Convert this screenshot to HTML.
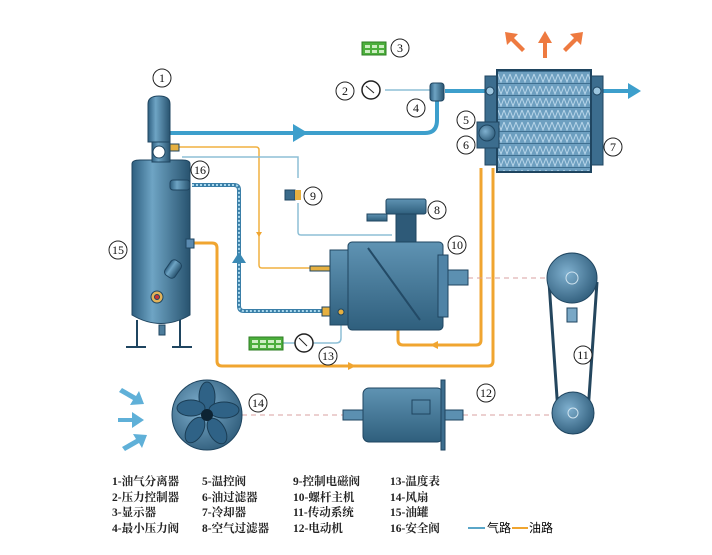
<!DOCTYPE html>
<html><head><meta charset="utf-8"><style>
html,body{margin:0;padding:0;background:#fff;}
svg{display:block;}
.n circle{fill:#fff;stroke:#222;stroke-width:1;}
.n text{font-family:"Liberation Serif",serif;font-size:12px;text-anchor:middle;fill:#111;}
.lg{font-family:"Liberation Serif","Noto Serif CJK SC",serif;font-size:11.5px;fill:#222;font-weight:bold;}
</style></head><body>
<svg width="712" height="555" viewBox="0 0 712 555" xmlns="http://www.w3.org/2000/svg">
<defs>
<linearGradient id="cyl" x1="0" x2="1" y1="0" y2="0">
<stop offset="0" stop-color="#2e5f80"/><stop offset="0.35" stop-color="#6ea4c4"/><stop offset="1" stop-color="#28536f"/></linearGradient>
<linearGradient id="bod" x1="0" x2="0" y1="0" y2="1">
<stop offset="0" stop-color="#5f93b3"/><stop offset="1" stop-color="#2f5f7d"/></linearGradient>
<radialGradient id="disk" cx="0.4" cy="0.4" r="0.7"><stop offset="0" stop-color="#7fb0cf"/><stop offset="1" stop-color="#2b5876"/></radialGradient>
<pattern id="fin" width="6" height="12" patternUnits="userSpaceOnUse">
<rect width="6" height="12" fill="#6d9fc0"/><path d="M0 2 L3 10 L6 2" stroke="#b9d6ea" stroke-width="1" fill="none"/><line x1="0" y1="11.5" x2="6" y2="11.5" stroke="#3f6f90"/></pattern>
</defs>

<g fill="none" stroke="#f0a530" stroke-width="3">
<path d="M194 243 H212 Q217 243 217 248 V361 Q217 366 222 366 H488 Q493 366 493 361 V168"/>
<path d="M398 325 V340 Q398 345 403 345 H476 Q481 345 481 340 V168"/>
</g>
<path d="M356 366 l-8 -4 v8z" fill="#f0a530"/>
<path d="M430 345 l8 -4 v8z" fill="#f0a530"/>
<path d="M172 147 H256 Q259 147 259 150 V265 Q259 268 262 268 H310" fill="none" stroke="#f0b040" stroke-width="1.5"/>
<path d="M256 232 l3 5 l3 -5z" fill="#f0a530"/>
<g fill="none" stroke="#8dbfd6" stroke-width="1.5">
<path d="M182 157 H298 V178"/>
<path d="M298 203 V232 Q298 235 301 235 H392"/>
<path d="M385 90 H430"/>
<path d="M341 312 V338 Q341 343 336 343 H312"/>
<path d="M283 343 H297"/>
</g>
<path d="M192 185 H234 Q239 185 239 190 V306 Q239 311 244 311 H322" fill="none" stroke="#3a7fa8" stroke-width="4"/>
<path d="M192 185 H234 Q239 185 239 190 V306 Q239 311 244 311 H322" fill="none" stroke="#a9d7ec" stroke-width="2" stroke-dasharray="2 2"/>
<path d="M232 263 L239 252 L246 263z" fill="#3a89b4"/>
<path d="M170 133 H425 Q437 133 437 120 V100" fill="none" stroke="#3d9fcc" stroke-width="4"/>
<path d="M293 124 L308 133 L293 142z" fill="#3d9fcc"/>
<path d="M445 91 H488" stroke="#3d9fcc" stroke-width="4"/>
<path d="M603 91 H630" stroke="#3d9fcc" stroke-width="4"/>
<path d="M628 83 L641 91 L628 99z" fill="#3d9fcc"/>
<g stroke="#d9a0a0" stroke-width="1" stroke-dasharray="5 4">
<line x1="468" y1="278" x2="560" y2="278"/>
<line x1="242" y1="415" x2="343" y2="415"/>
<line x1="463" y1="415" x2="565" y2="415"/>
</g>

<g stroke="#1f4560" stroke-width="1">
<line x1="137" y1="320" x2="137" y2="347" stroke-width="2"/><line x1="180" y1="320" x2="180" y2="347" stroke-width="2"/>
<line x1="126" y1="347" x2="146" y2="347" stroke-width="2"/><line x1="172" y1="347" x2="192" y2="347" stroke-width="2"/>
<rect x="159" y="325" width="6" height="10" fill="#4d7d9c"/>
<path d="M132 164 Q132 160 140 160 H182 Q190 160 190 164 V315 Q161 332 132 315z" fill="url(#cyl)"/>
<rect x="152" y="142" width="18" height="20" fill="url(#cyl)"/>
<path d="M148 104 Q148 96 159 96 Q170 96 170 104 V142 H148z" fill="url(#cyl)"/>
<circle cx="159" cy="152" r="6" fill="#fff"/>
<rect x="170" y="180" width="20" height="10" rx="3" fill="url(#cyl)"/>
<rect x="186" y="239" width="8" height="9" fill="#5a8ab0"/>
<rect x="167" y="260" width="12" height="18" rx="4" fill="url(#cyl)" transform="rotate(35 173 269)"/>
<circle cx="157" cy="297" r="6" fill="#e2b35a"/><circle cx="157" cy="297" r="2.5" fill="#c33"/>
<rect x="170" y="144" width="9" height="7" fill="#e6b040"/>
</g>

<g stroke="#1f4560" stroke-width="1">
<rect x="367" y="214" width="20" height="7" fill="url(#bod)"/>
<rect x="386" y="199" width="40" height="15" rx="2" fill="url(#bod)"/>
<rect x="396" y="214" width="20" height="30" fill="#2e5a78"/>
<rect x="330" y="250" width="30" height="75" fill="url(#bod)"/>
<rect x="348" y="242" width="95" height="88" rx="4" fill="url(#bod)"/>
<path d="M368 248 L420 320" stroke="#234a66" stroke-width="2"/>
<rect x="438" y="255" width="10" height="62" fill="#4f83a6"/>
<rect x="448" y="270" width="20" height="15" fill="#5c90b1"/>
<rect x="310" y="266" width="20" height="5" fill="#e6b040"/>
<rect x="322" y="307" width="8" height="9" fill="#e6b040"/>
<circle cx="341" cy="312" r="3" fill="#e6b040"/>
</g>
<rect x="285" y="190" width="10" height="10" fill="#3a6a8a" stroke="#1f4560"/>
<rect x="295" y="190" width="6" height="10" fill="#e6b040"/>
<rect x="430" y="83" width="14" height="18" rx="3" fill="url(#cyl)" stroke="#1f4560"/>
<circle cx="371" cy="90" r="9" fill="#fff" stroke="#222" stroke-width="1.5"/><line x1="366" y1="86" x2="374" y2="93" stroke="#222"/>
<circle cx="304" cy="343" r="9" fill="#fff" stroke="#222" stroke-width="1.5"/><line x1="299" y1="338" x2="307" y2="346" stroke="#222"/>
<g fill="#4caf3c" stroke="#2e7d23"><rect x="249" y="337" width="34" height="13"/><rect x="362" y="42" width="24" height="13"/></g>
<g fill="#cdeec2"><rect x="252" y="340" width="6" height="3"/><rect x="260" y="340" width="6" height="3"/><rect x="268" y="340" width="6" height="3"/><rect x="276" y="340" width="5" height="3"/>
<rect x="252" y="345" width="6" height="3"/><rect x="260" y="345" width="6" height="3"/><rect x="268" y="345" width="6" height="3"/><rect x="276" y="345" width="5" height="3"/>
<rect x="365" y="45" width="5" height="3"/><rect x="372" y="45" width="5" height="3"/><rect x="379" y="45" width="5" height="3"/>
<rect x="365" y="50" width="5" height="3"/><rect x="372" y="50" width="5" height="3"/><rect x="379" y="50" width="5" height="3"/></g>

<rect x="485" y="76" width="14" height="89" fill="#3c6d8e" stroke="#1f4560"/>
<rect x="589" y="76" width="14" height="89" fill="#3c6d8e" stroke="#1f4560"/>
<rect x="497" y="70" width="94" height="102" fill="url(#fin)" stroke="#1f4560" stroke-width="2"/>
<circle cx="490" cy="91" r="4" fill="#9cc6df" stroke="#1f4560"/><circle cx="597" cy="91" r="4" fill="#9cc6df" stroke="#1f4560"/>
<rect x="477" y="122" width="22" height="26" fill="#3c6d8e" stroke="#1f4560"/>
<circle cx="487" cy="133" r="8" fill="url(#disk)" stroke="#1f4560"/>
<g fill="#ee7a40"><path d="M543 58 V43 h-5 l7 -12 l7 12 h-5 V58z"/><path d="M522 52 L511 41 l-4 4 l-2 -13 l13 2 l-4 4 l11 11z"/><path d="M566 52 L577 41 l4 4 l2 -13 l-13 2 l4 4 l-11 11z"/></g>

<path d="M549 282 L558 412 M597 282 L588 412" stroke="#24465e" stroke-width="3"/>
<circle cx="572" cy="278" r="25" fill="url(#disk)" stroke="#1f4560"/>
<circle cx="572" cy="278" r="6" fill="none" stroke="#cfe3ef"/>
<rect x="567" y="308" width="10" height="14" fill="#7aa8c6" stroke="#1f4560"/>
<circle cx="573" cy="413" r="21" fill="url(#disk)" stroke="#1f4560"/>
<circle cx="573" cy="413" r="5" fill="none" stroke="#cfe3ef"/>
<circle cx="207" cy="415" r="35" fill="url(#disk)" stroke="#1f4560"/>
<g fill="#2f6286" stroke="#1a3d55"><ellipse cx="207" cy="397" rx="8" ry="15"/><ellipse cx="224" cy="410" rx="15" ry="8"/><ellipse cx="217" cy="431" rx="8" ry="14" transform="rotate(-30 217 431)"/><ellipse cx="195" cy="430" rx="8" ry="14" transform="rotate(30 195 430)"/><ellipse cx="191" cy="408" rx="14" ry="8"/></g>
<circle cx="207" cy="415" r="6" fill="#0d2333"/>
<g fill="#5fb0d8"><path d="M118 418 h14 v-6 l12 8 l-12 8 v-6 h-14z"/><path d="M122 388 l14 8 l3 -5 l5 13 l-14 1 l3 -5 l-14 -8z"/><path d="M122 447 l14 -8 l-3 -5 l14 1 l-5 13 l-3 -5 l-14 8z"/></g>
<g stroke="#1f4560">
<rect x="343" y="410" width="22" height="10" fill="#5c90b1"/>
<rect x="443" y="410" width="20" height="10" fill="#5c90b1"/>
<rect x="363" y="388" width="80" height="54" rx="6" fill="url(#bod)"/>
<rect x="441" y="380" width="4" height="70" fill="#3c6d8e"/>
<rect x="412" y="400" width="18" height="14" fill="none"/>
</g>

<g class="n">
<g transform="translate(162,78)"><circle r="9"/><text y="4">1</text></g>
<g transform="translate(345,91)"><circle r="9"/><text y="4">2</text></g>
<g transform="translate(400,48)"><circle r="9"/><text y="4">3</text></g>
<g transform="translate(416,108)"><circle r="9"/><text y="4">4</text></g>
<g transform="translate(466,120)"><circle r="9"/><text y="4">5</text></g>
<g transform="translate(466,145)"><circle r="9"/><text y="4">6</text></g>
<g transform="translate(613,147)"><circle r="9"/><text y="4">7</text></g>
<g transform="translate(437,210)"><circle r="9"/><text y="4">8</text></g>
<g transform="translate(313,196)"><circle r="9"/><text y="4">9</text></g>
<g transform="translate(457,245)"><circle r="9"/><text y="4">10</text></g>
<g transform="translate(583,355)"><circle r="9"/><text y="4">11</text></g>
<g transform="translate(486,393)"><circle r="9"/><text y="4">12</text></g>
<g transform="translate(328,356)"><circle r="9"/><text y="4">13</text></g>
<g transform="translate(258,403)"><circle r="9"/><text y="4">14</text></g>
<g transform="translate(118,250)"><circle r="9"/><text y="4">15</text></g>
<g transform="translate(200,170)"><circle r="9"/><text y="4">16</text></g>
</g>

<g class="lg">
<text x="112" y="485">1-油气分离器</text><text x="112" y="501">2-压力控制器</text><text x="112" y="516">3-显示器</text><text x="112" y="532">4-最小压力阀</text>
<text x="202" y="485">5-温控阀</text><text x="202" y="501">6-油过滤器</text><text x="202" y="516">7-冷却器</text><text x="202" y="532">8-空气过滤器</text>
<text x="293" y="485">9-控制电磁阀</text><text x="293" y="501">10-螺杆主机</text><text x="293" y="516">11-传动系统</text><text x="293" y="532">12-电动机</text>
<text x="390" y="485">13-温度表</text><text x="390" y="501">14-风扇</text><text x="390" y="516">15-油罐</text><text x="390" y="532">16-安全阀</text>
</g>
<line x1="468" y1="528" x2="485" y2="528" stroke="#5aa6c8" stroke-width="2"/>
<text x="487" y="532" style="font-family:'Liberation Sans','Noto Sans CJK SC',sans-serif;font-size:12px">气路</text>
<line x1="512" y1="528" x2="528" y2="528" stroke="#f0a530" stroke-width="2"/>
<text x="529" y="532" style="font-family:'Liberation Sans','Noto Sans CJK SC',sans-serif;font-size:12px">油路</text>
</svg>
</body></html>
